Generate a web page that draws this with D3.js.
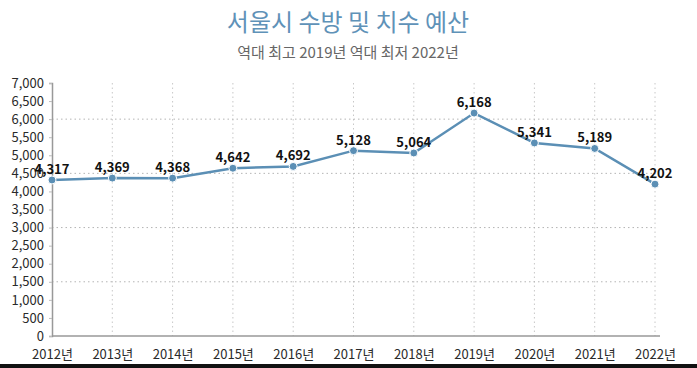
<!DOCTYPE html>
<html>
<head>
<meta charset="utf-8">
<script src="https://cdn.jsdelivr.net/npm/d3@7"></script>
<style>
  body { margin: 0; background: #fff; }
  svg { display: block; font-family: "Noto Sans CJK KR", "Noto Sans", sans-serif; }
</style>
</head>
<body>
<svg id="chart" width="697" height="368"></svg>
<script>
var years = ["2012년", "2013년", "2014년", "2015년", "2016년", "2017년", "2018년", "2019년", "2020년", "2021년", "2022년"];
var budget = [4317, 4369, 4368, 4642, 4692, 5128, 5064, 6168, 5341, 5189, 4202];
var yTicks = [0, 500, 1000, 1500, 2000, 2500, 3000, 3500, 4000, 4500, 5000, 5500, 6000, 6500, 7000];
var gridValues = [1500, 3000, 4500, 6000];

var svg = d3.select("#chart"),
    pLeft = 52, pRight = 655, pTop = 83, pBottom = 336;

var x = d3.scalePoint().domain(years).range([pLeft, pRight]);
var y = d3.scaleLinear().domain([0, 7000]).range([pBottom, pTop]);

// title
svg.append("text")
    .attr("x", 348).attr("y", 31)
    .attr("text-anchor", "middle")
    .attr("fill", "#5f92b8")
    .style("font-size", "24px")
    .text("서울시 수방 및 치수 예산");

svg.append("text")
    .attr("x", 348).attr("y", 58)
    .attr("text-anchor", "middle")
    .attr("fill", "#666")
    .style("font-size", "15px")
    .text("역대 최고 2019년 역대 최저 2022년");

// grid
svg.selectAll(".vgrid")
    .data(years.slice(1))
    .enter().append("line")
    .attr("x1", function(d) { return x(d); })
    .attr("x2", function(d) { return x(d); })
    .attr("y1", pTop)
    .attr("y2", pBottom)
    .attr("stroke", "#c8c8c8")
    .attr("stroke-dasharray", "1.5,3");

svg.selectAll(".hgrid")
    .data(gridValues)
    .enter().append("line")
    .attr("x1", pLeft)
    .attr("x2", pRight)
    .attr("y1", function(d) { return y(d); })
    .attr("y2", function(d) { return y(d); })
    .attr("stroke", "#b4b4b4")
    .attr("stroke-dasharray", "1.5,3");

// y axis
var yAxis = svg.append("g")
    .attr("transform", "translate(" + pLeft + ",0)")
    .call(d3.axisLeft(y).tickValues(yTicks).tickSize(3).tickPadding(5).tickFormat(d3.format(",")));
yAxis.select(".domain").attr("stroke", "#999").attr("stroke-width", 1.5);
yAxis.selectAll(".tick line").attr("stroke", "#bbb");
yAxis.selectAll("text")
    .attr("fill", "#2a2a2a")
    .style("font-size", "13px")
    .style("font-family", "'Noto Sans CJK KR', sans-serif");

// x axis
var xAxis = svg.append("g")
    .attr("transform", "translate(0," + pBottom + ")")
    .call(d3.axisBottom(x).tickSize(0).tickPadding(14));
xAxis.select(".domain").attr("d", "M" + pLeft + ",0H" + (pRight + 5)).attr("stroke", "#999").attr("stroke-width", 1.5);
xAxis.selectAll("text")
    .attr("fill", "#2a2a2a")
    .style("font-size", "13px")
    .style("font-family", "'Noto Sans CJK KR', sans-serif");

// line
var line = d3.line()
    .x(function(d, i) { return x(years[i]); })
    .y(function(d) { return y(d); });

svg.append("path")
    .datum(budget)
    .attr("d", line)
    .attr("fill", "none")
    .attr("stroke", "#5b8fb5")
    .attr("stroke-width", 2.5);

svg.selectAll(".dot")
    .data(budget)
    .enter().append("circle")
    .attr("cx", function(d, i) { return x(years[i]); })
    .attr("cy", function(d) { return y(d); })
    .attr("r", 4)
    .attr("fill", "#5b8fb5")
    .attr("stroke", "#fff")
    .attr("stroke-width", 1);

svg.selectAll(".lbl")
    .data(budget)
    .enter().append("text")
    .attr("x", function(d, i) { return x(years[i]); })
    .attr("y", function(d) { return y(d) - 6; })
    .attr("text-anchor", "middle")
    .attr("fill", "#111")
    .style("font-size", "13px")
    .style("font-weight", "bold")
    .text(function(d) { return d3.format(",")(d); });

// bottom strip
svg.append("rect")
    .attr("x", 0).attr("y", 364)
    .attr("width", 697).attr("height", 4)
    .attr("fill", "#111");
</script>
</body>
</html>
